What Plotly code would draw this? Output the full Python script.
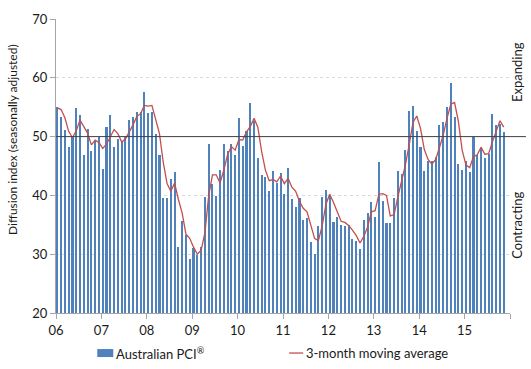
import plotly.graph_objects as go

# Monthly data, Jan 2006 .. Nov 2015
year_labels = ["06", "07", "08", "09", "10", "11", "12", "13", "14", "15"]

pci = [
    55.0, 53.4, 51.1, 48.2, 50.0, 54.8, 53.7, 46.9, 51.3, 47.5, 49.5, 50.0,  # 2006
    44.5, 51.6, 53.7, 48.3, 49.6, 49.3, 49.9, 52.8, 53.3, 54.2, 54.1, 57.6,  # 2007
    54.0, 54.2, 50.4, 46.8, 39.6, 39.6, 42.8, 44.0, 31.2, 35.7, 33.3, 29.2,  # 2008
    31.1, 29.8, 31.3, 39.7, 48.8, 41.9, 39.9, 44.4, 48.7, 47.6, 48.7, 46.8,  # 2009
    53.1, 48.4, 51.0, 55.8, 52.6, 46.4, 43.4, 43.2, 40.8, 44.1, 42.1, 43.8,  # 2010
    40.2, 44.6, 39.4, 38.0, 39.6, 35.8, 36.1, 32.1, 30.0, 34.8, 39.7, 41.0,  # 2011
    40.0, 35.5, 36.3, 35.0, 34.8, 34.9, 32.6, 32.2, 30.9, 35.8, 37.0, 38.8,  # 2012
    36.3, 45.6, 39.0, 35.3, 35.3, 39.6, 44.1, 43.7, 47.7, 54.4, 55.2, 50.9,  # 2013
    48.2, 44.2, 45.9, 45.9, 46.6, 51.9, 52.5, 55.0, 59.1, 53.4, 45.4, 44.4,  # 2014
    45.9, 43.9, 50.0, 46.8, 47.9, 46.3, 47.1, 53.8, 52.0, 52.2, 50.7,        # 2015
]

moving_avg = [
    54.9, 54.6, 53.2, 50.9, 49.8, 51.0, 52.8, 51.8, 50.6, 48.6, 49.4, 49.0,
    48.0, 48.7, 49.9, 51.2, 50.5, 49.1, 49.6, 50.7, 52.0, 53.4, 53.9, 55.3,
    55.2, 55.3, 52.9, 50.5, 45.6, 42.0, 40.7, 42.1, 39.3, 37.0, 33.4, 32.7,
    31.2, 30.0, 30.7, 33.6, 39.9, 43.5, 43.5, 42.1, 44.3, 46.9, 48.3, 47.7,
    49.5, 49.4, 50.8, 51.7, 53.1, 51.6, 47.5, 44.3, 42.5, 42.7, 42.3, 43.3,
    42.0, 42.9, 41.4, 40.7, 39.0, 37.8, 37.2, 34.7, 32.7, 32.3, 34.8, 38.5,
    40.2, 38.8, 37.3, 35.6, 35.4, 34.9, 34.1, 33.2, 31.9, 33.0, 34.6, 37.2,
    37.4, 40.2, 40.3, 40.0, 36.5, 36.7, 39.7, 42.5, 45.2, 48.6, 52.4, 53.5,
    51.4, 47.8, 46.1, 45.3, 46.1, 48.1, 50.3, 53.1, 55.5, 55.8, 52.6, 47.7,
    45.2, 44.7, 46.6, 46.9, 48.2, 47.0, 47.1, 49.1, 51.0, 52.7, 51.6,
]

bar_name = "Australian PCI<sup>®</sup>"
line_name = "3-month moving average"

month_pos = [i + 0.35 for i in range(len(pci))]
tick_pos = [12 * k for k in range(len(year_labels))]

FONT = "Lato"
TXT = "#1a1a1a"
BLUE = "#4f81bd"
RED = "#c0504d"

fig = go.Figure()
fig.add_trace(go.Bar(
    x=month_pos, y=pci, width=0.55, name=bar_name, showlegend=False,
    marker=dict(color=BLUE, line=dict(width=0)),
))
fig.add_trace(go.Scatter(
    x=month_pos, y=moving_avg, mode="lines", name=line_name, showlegend=False,
    line=dict(color=RED, width=1.3),
))

# 50 reference line
fig.add_shape(type="line", xref="paper", yref="y", x0=0, x1=1.035, y0=50, y1=50,
              line=dict(color="#404040", width=1))

# legend (drawn manually to match Excel layout)
fig.add_shape(type="rect", xref="paper", yref="paper", x0=0.0909, x1=0.1261,
              y0=-0.1498, y1=-0.1226, fillcolor=BLUE, line=dict(width=0))
fig.add_annotation(text=bar_name, xref="paper", yref="paper", x=0.1283, y=-0.1362,
                   xanchor="left", yanchor="middle", showarrow=False,
                   font=dict(family=FONT, size=13, color=TXT))
fig.add_shape(type="line", xref="paper", yref="paper", x0=0.5135, x1=0.5444,
              y0=-0.1362, y1=-0.1362, line=dict(color=RED, width=1.3))
fig.add_annotation(text=line_name, xref="paper", yref="paper", x=0.5466, y=-0.1362,
                   xanchor="left", yanchor="middle", showarrow=False,
                   font=dict(family=FONT, size=13, color=TXT))

fig.add_annotation(text="Diffusion index (seasonally adjusted)", textangle=-90,
                   xref="paper", yref="paper", x=-0.096, y=0.59, showarrow=False,
                   xanchor="center", yanchor="middle",
                   font=dict(family=FONT, size=12, color=TXT))
fig.add_annotation(text="Expanding", textangle=-90, xref="paper", yref="paper",
                   x=1.0154, xanchor="center", y=0.82, yanchor="middle", showarrow=False,
                   font=dict(family=FONT, size=13, color=TXT))
fig.add_annotation(text="Contracting", textangle=-90, xref="paper", yref="paper",
                   x=1.0154, xanchor="center", y=0.30, yanchor="middle", showarrow=False,
                   font=dict(family=FONT, size=13, color=TXT))

fig.update_layout(
    width=531, height=369,
    margin=dict(l=56, r=21, t=19, b=56),
    paper_bgcolor="white", plot_bgcolor="white",
    font=dict(family=FONT, size=13, color=TXT),
    bargap=0,
    showlegend=False,
)
fig.update_xaxes(range=[0, 120], tickmode="array", tickvals=tick_pos, ticktext=year_labels,
                 showgrid=False, showline=True, linecolor="#a6a6a6", linewidth=1,
                 ticks="outside", ticklen=5, tickcolor="#a6a6a6", zeroline=False,
                 minor=dict(dtick=12, tick0=0, ticks="outside", ticklen=5,
                            tickcolor="#a6a6a6", showgrid=False),
                 tickfont=dict(family=FONT, size=13, color=TXT))
fig.update_yaxes(range=[20, 70], dtick=10, showgrid=True, gridcolor="#d9d9d9",
                 griddash="dot", gridwidth=1, showline=True, linecolor="#a6a6a6",
                 linewidth=1, ticks="outside", ticklen=5, tickcolor="#a6a6a6",
                 zeroline=False, tickfont=dict(family=FONT, size=13, color=TXT))

fig.write_html("out.html", config={"displayModeBar": False},
               post_script="document.body.style.margin='0';document.body.style.overflow='hidden';")
